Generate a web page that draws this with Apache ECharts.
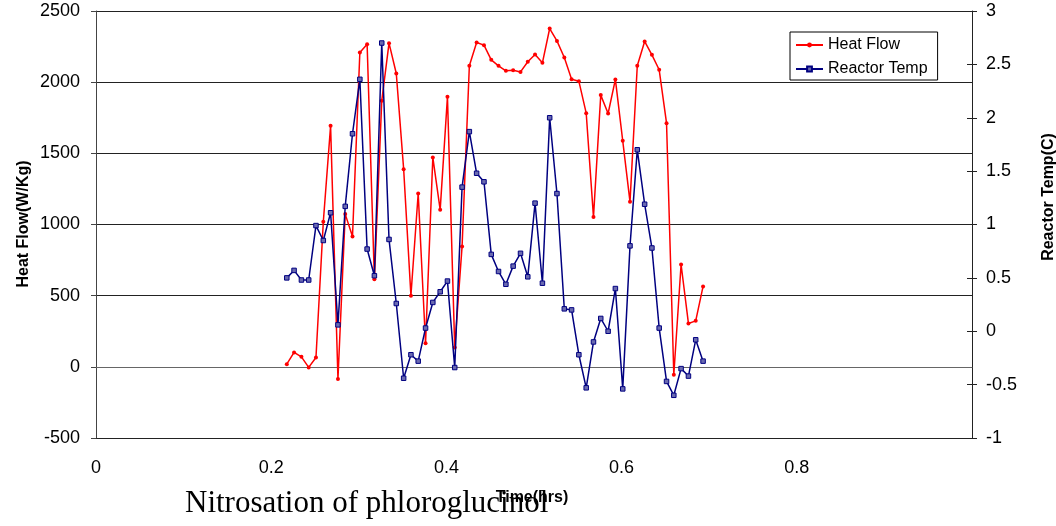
<!DOCTYPE html>
<html>
<head>
<meta charset="utf-8">
<script src="https://cdn.jsdelivr.net/npm/echarts@6/dist/echarts.min.js"></script>
<style>html,body{margin:0;padding:0;background:#fff;}#c{width:1056px;height:526px;}</style>
</head>
<body>
<div id="c"></div>
<script>
var timeHrs = [0.2178,0.2261,0.2345,0.2428,0.2511,0.2595,0.2678,0.2762,0.2845,0.2928,
  0.3012,0.3095,0.3178,0.3262,0.3345,0.3428,0.3512,0.3595,0.3678,0.3762,
  0.3845,0.3929,0.4012,0.4095,0.4179,0.4262,0.4345,0.4429,0.4512,0.4595,
  0.4679,0.4762,0.4846,0.4929,0.5012,0.5096,0.5179,0.5262,0.5346,0.5429,
  0.5512,0.5596,0.5679,0.5762,0.5846,0.5929,0.6013,0.6096,0.6179,0.6263,
  0.6346,0.6429,0.6513,0.6596,0.6679,0.6763,0.6846,0.6930];
var heatFlow = [19,101,70,-4,66,1019,1693,-86,1073,916,
  2209,2267,616,1869,2274,2061,1389,499,1218,166,
  1471,1103,1897,136,846,2115,2279,2260,2157,2115,
  2080,2084,2072,2143,2194,2136,2377,2290,2173,2021,
  2007,1782,1052,1909,1780,2019,1588,1159,2115,2286,
  2192,2087,1712,-56,719,305,323,565];
var reactorTemp = [0.50,0.57,0.48,0.48,0.99,0.85,1.11,0.06,1.17,1.85,
  2.36,0.77,0.52,2.70,0.86,0.26,-0.44,-0.22,-0.28,0.03,
  0.27,0.37,0.47,-0.34,1.35,1.87,1.48,1.40,0.72,0.56,
  0.44,0.61,0.73,0.51,1.20,0.45,2.00,1.29,0.21,0.20,
  -0.22,-0.53,-0.10,0.12,0.00,0.40,-0.54,0.80,1.70,1.19,
  0.78,0.03,-0.47,-0.60,-0.35,-0.42,-0.08,-0.28];
var seriesNames = ['Heat Flow','Reactor Temp'];
var chartTitle = 'Nitrosation of phloroglucinol';
var xTitle = 'Time(hrs)';
var yLeftTitle = 'Heat Flow(W/Kg)';
var yRightTitle = 'Reactor Temp(C)';

function pairs(xs, ys){ return xs.map(function(x,i){ return [x, ys[i]]; }); }
function plain(v){ return String(v); }

var FONT = 'Liberation Sans, Arial, sans-serif';
var chart = echarts.init(document.getElementById('c'), null, {renderer:'canvas'});
chart.setOption({
  animation: false,
  backgroundColor: '#fff',
  grid: {left: 96, right: 84, top: 11, bottom: 88, containLabel: false},
  legend: {
    orient: 'vertical', left: 790, top: 32,
    itemWidth: 27, itemHeight: 6, itemGap: 8,
    padding: [5, 10, 3, 5],
    borderColor: '#000', borderWidth: 1, backgroundColor: '#fff',
    textStyle: {fontFamily: FONT, fontSize: 16, color: '#000'},
    data: seriesNames
  },
  xAxis: {
    type: 'value', min: 0, max: 1, interval: 0.2,
    axisLine: {show: true, lineStyle: {color: '#666', width: 1}},
    axisTick: {show: false},
    splitLine: {show: false},
    axisLabel: {fontFamily: FONT, fontSize: 18, color: '#000', margin: 21, showMaxLabel: false, formatter: plain}
  },
  yAxis: [
    {
      type: 'value', position: 'left', min: -500, max: 2500, interval: 500,
      axisLine: {show: true, lineStyle: {color: '#444', width: 1}},
      axisTick: {show: true, length: 5, lineStyle: {color: '#444'}},
      splitLine: {show: true, lineStyle: {color: '#222', width: 1}},
      axisLabel: {fontFamily: FONT, fontSize: 18, color: '#000', margin: 16, formatter: plain}
    },
    {
      type: 'value', position: 'right', min: -1, max: 3, interval: 0.5,
      axisLine: {show: true, lineStyle: {color: '#222', width: 1}},
      axisTick: {show: true, length: 5, lineStyle: {color: '#222'}},
      splitLine: {show: false},
      axisLabel: {fontFamily: FONT, fontSize: 18, color: '#000', margin: 14, formatter: plain}
    },
    {
      type: 'value', position: 'right', min: -1, max: 3, interval: 0.5,
      axisLine: {show: false},
      axisTick: {show: true, inside: true, length: 5, lineStyle: {color: '#222'}},
      splitLine: {show: false},
      axisLabel: {show: false}
    }
  ],
  series: [
    {
      name: seriesNames[0], type: 'line', yAxisIndex: 0,
      data: pairs(timeHrs, heatFlow),
      symbol: 'circle', symbolSize: 4, showSymbol: true,
      lineStyle: {color: '#ff0000', width: 1.5},
      itemStyle: {color: '#ff0000'},
      z: 3
    },
    {
      name: seriesNames[1], type: 'line', yAxisIndex: 1,
      data: pairs(timeHrs, reactorTemp),
      symbol: 'rect', symbolSize: 4.5, showSymbol: true,
      lineStyle: {color: '#000080', width: 1.5},
      itemStyle: {color: '#6a6ab0', borderColor: '#000080', borderWidth: 1},
      z: 4
    }
  ],
  graphic: [
    {type: 'text', left: 185, top: 488, z: 10,
      style: {text: chartTitle, font: '31px "Liberation Serif", "Times New Roman", serif', fill: '#000'}},
    {type: 'text', x: 532, y: 498, z: 11,
      style: {text: xTitle, font: 'bold 16px ' + FONT, fill: '#000', align: 'center', verticalAlign: 'middle'}},
    {type: 'text', x: 24, y: 224, rotation: Math.PI / 2, z: 11,
      style: {text: yLeftTitle, font: 'bold 16px ' + FONT, fill: '#000', align: 'center', verticalAlign: 'middle'}},
    {type: 'text', x: 1049, y: 197, rotation: Math.PI / 2, z: 11,
      style: {text: yRightTitle, font: 'bold 16px ' + FONT, fill: '#000', align: 'center', verticalAlign: 'middle'}}
  ]
});
</script>
</body>
</html>
